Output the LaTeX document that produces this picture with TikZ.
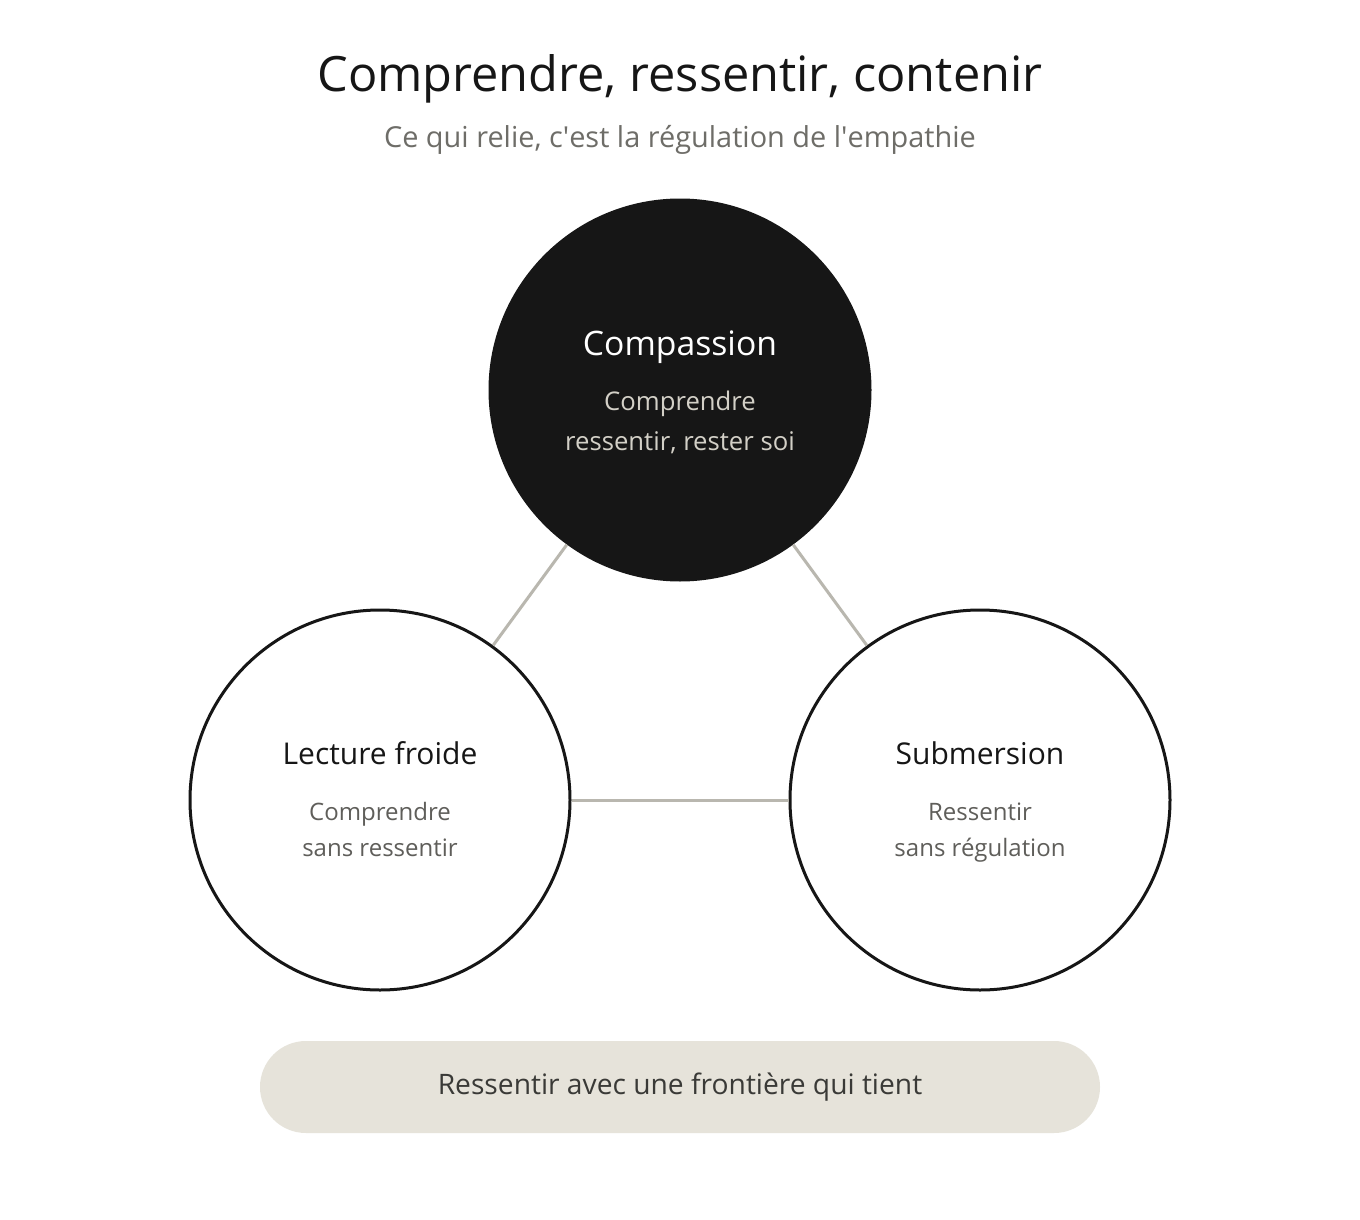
\documentclass[tikz,border=0pt]{standalone}
\usepackage{fontspec}
\setmainfont{Open Sans}
\definecolor{ink}{HTML}{161616}
\definecolor{linegray}{HTML}{B9B7AF}
\definecolor{subgray}{HTML}{5F5E5A}
\definecolor{titlegray}{HTML}{6E6D68}
\definecolor{paleink}{HTML}{D3D0C7}
\definecolor{pillfill}{HTML}{E6E3DA}
\definecolor{pilltext}{HTML}{3A3A37}
\begin{document}
\begin{tikzpicture}[x=1pt,y=-1pt,
  bubble/.style={circle,minimum size=380pt,inner sep=0pt,line width=3pt,draw=ink},
  link/.style={line width=3pt,linegray},
  head/.style={anchor=base,inner sep=0pt,font=\fontsize{30}{36}\selectfont},
  sub/.style={anchor=base,inner sep=0pt,align=center,subgray,font=\fontsize{24}{36}\selectfont}]
\useasboundingbox [fill=white] (0,0) rectangle (1360,1220);
% titles
\node [anchor=base,inner sep=0pt,text=ink,font=\fontsize{48.7}{58}\selectfont] (title) at (680,92) {Comprendre, ressentir, contenir};
\node [anchor=base,inner sep=0pt,text=titlegray,font=\fontsize{28.9}{34}\selectfont] (subtitle) at (680,147) {Ce qui relie, c\textquotesingle est la régulation de l\textquotesingle empathie};
% circles
\node [bubble,fill=ink] (compassion) at (680,390) {};
\node [bubble,fill=white] (lecture) at (380,800) {};
\node [bubble,fill=white] (submersion) at (980,800) {};
\draw [link] (compassion) -- (lecture);
\draw [link] (compassion) -- (submersion);
\draw [link] (lecture) -- (submersion);
% texts
\node [head,white,font=\fontsize{33.7}{40}\selectfont] (compassionhead) at (680,355) {Compassion};
\node [sub,paleink,font=\fontsize{25.7}{40}\selectfont] (compassionsub) at (680,450) {Comprendre\\ressentir, rester soi};
\node [head,ink] (lecturehead) at (380,764) {Lecture froide};
\node [sub] (lecturesub) at (380,856) {Comprendre\\sans ressentir};
\node [head,ink] (submersionhead) at (980,764) {Submersion};
\node [sub] (submersionsub) at (980,856) {Ressentir\\sans régulation};
% pill
\node [fill=pillfill,rounded corners=46pt,minimum width=840pt,minimum height=92pt,inner sep=0pt,text=pilltext,font=\fontsize{28.2}{34}\selectfont] (boundary) at (680,1087) {Ressentir avec une frontière qui tient};
\end{tikzpicture}
\end{document}
